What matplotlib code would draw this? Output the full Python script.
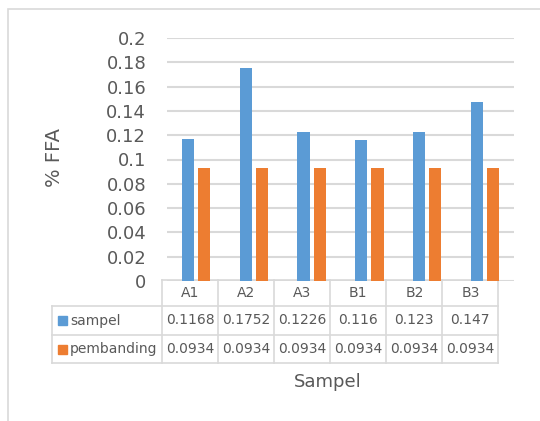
import numpy as np
import matplotlib.pyplot as plt
from matplotlib.patches import Rectangle
from matplotlib.lines import Line2D

# Data
categories = ['A1', 'A2', 'A3', 'B1', 'B2', 'B3']
sampel = [0.1168, 0.1752, 0.1226, 0.116, 0.123, 0.147]
pembanding = [0.0934, 0.0934, 0.0934, 0.0934, 0.0934, 0.0934]
sampel_txt = ['0.1168', '0.1752', '0.1226', '0.116', '0.123', '0.147']
pembanding_txt = ['0.0934'] * 6

blue = '#5B9BD5'
orange = '#ED7D31'
txt = '#595959'
grid = '#D9D9D9'

W, H = 540, 421
fig = plt.figure(figsize=(W / 100, H / 100), dpi=100)

# outer chart border
fig.patches.append(Rectangle((8 / W, -0.1), 1.1, 1 - 9 / H + 0.1, transform=fig.transFigure,
                             fill=False, edgecolor=grid, linewidth=1.2))

ax = fig.add_axes([167 / W, 1 - 281 / H, (514 - 167) / W, (281 - 38) / H])
x = np.arange(len(categories))
ax.bar(x - 0.14, sampel, width=0.21, color=blue, zorder=3)
ax.bar(x + 0.14, pembanding, width=0.21, color=orange, zorder=3)

ax.set_xlim(-0.5, len(categories) - 0.5)
ax.set_ylim(0, 0.2)
ax.set_yticks(np.arange(0, 0.201, 0.02))
ax.set_yticklabels(['0', '0.02', '0.04', '0.06', '0.08', '0.1', '0.12', '0.14', '0.16', '0.18', '0.2'])
ax.tick_params(axis='y', length=0, labelsize=13, colors=txt, pad=15)
ax.set_xticks([])
ax.grid(axis='y', color=grid, linewidth=1.5, zorder=0)
for s in ax.spines.values():
    s.set_visible(False)

fig.text(55 / W, 1 - 158 / H, '% FFA', rotation=90, ha='center', va='center',
         fontsize=14, color=txt)

# data table below the plot
def fy(py):
    return (281 - py) / (281 - 38)

def fx(px):
    return (px - 167) / (514 - 167)

n = len(categories)
col_w = 1 / n
left_tab = fx(52)
tr = ax.transAxes
for yy in [306, 335, 363]:
    ax.add_line(Line2D([left_tab, 1 - 0.045], [fy(yy), fy(yy)], transform=tr, color=grid,
                       linewidth=1.2, clip_on=False))
ax.add_line(Line2D([-0.014, 1 - 0.045], [fy(280), fy(280)], transform=tr, color=grid,
                   linewidth=1.2, clip_on=False))
ax.add_line(Line2D([left_tab, left_tab], [fy(306), fy(363)], transform=tr, color=grid,
                   linewidth=1.2, clip_on=False))
scale = (1 - 0.045 + 0.014) / 1.0
for i in range(n + 1):
    xx = -0.014 + i * col_w * scale
    ax.add_line(Line2D([xx, xx], [fy(280), fy(363)], transform=tr, color=grid,
                       linewidth=1.2, clip_on=False))

for i, cat in enumerate(categories):
    cx = -0.014 + (i + 0.5) * col_w * scale
    ax.text(cx, fy(293), cat, transform=tr, ha='center', va='center', fontsize=10, color=txt)
    ax.text(cx, fy(320.5), sampel_txt[i], transform=tr, ha='center', va='center',
            fontsize=10, color=txt)
    ax.text(cx, fy(349), pembanding_txt[i], transform=tr, ha='center', va='center',
            fontsize=10, color=txt)

for name, color, yy in [('sampel', blue, 320.5), ('pembanding', orange, 349)]:
    fig.patches.append(Rectangle((58 / W, 1 - (yy + 4.5) / H), 9 / W, 9 / H,
                                 transform=fig.transFigure, color=color))
    ax.text(fx(70), fy(yy), name, transform=tr, ha='left', va='center', fontsize=10, color=txt)

fig.text(328 / W, 1 - 382 / H, 'Sampel', ha='center', va='center', fontsize=13, color=txt)

fig.savefig('out.png', dpi=100)
